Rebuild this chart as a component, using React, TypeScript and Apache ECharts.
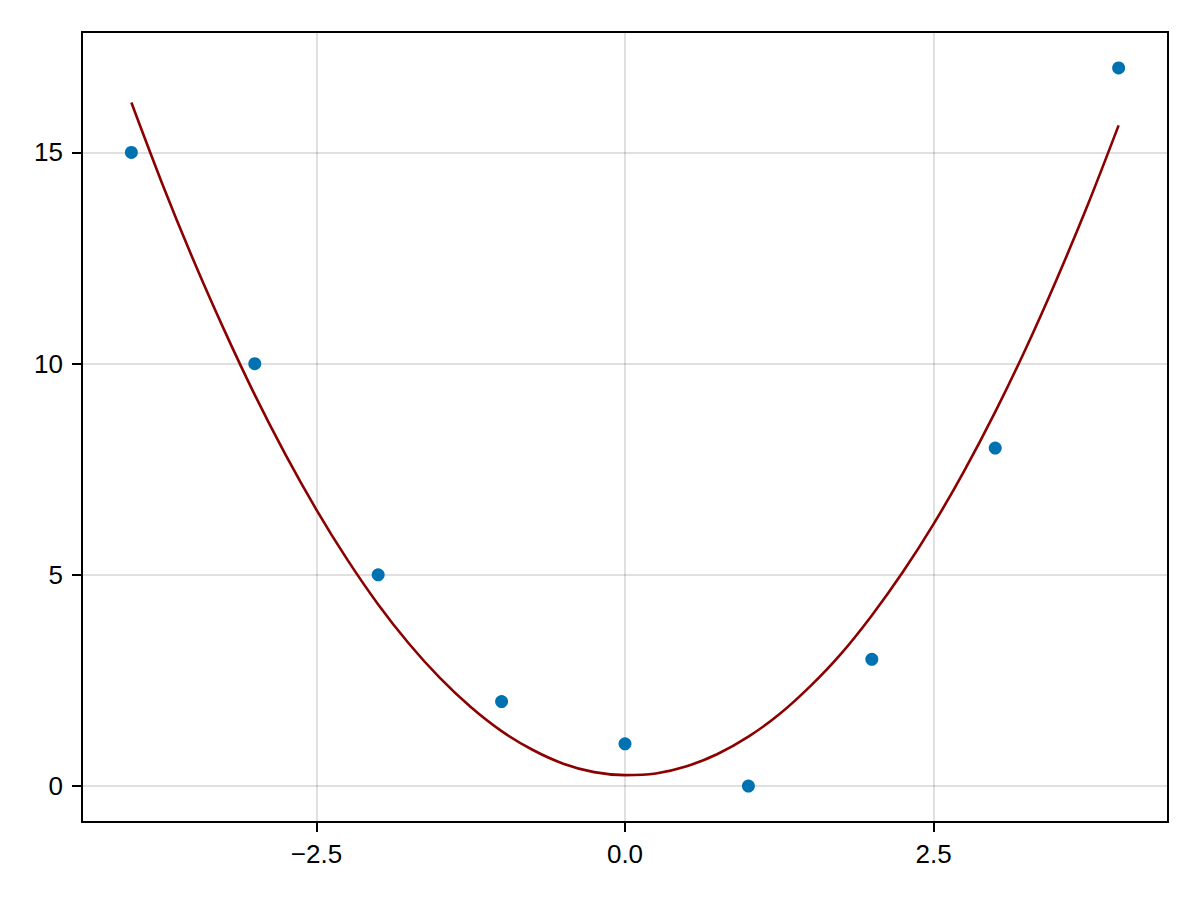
import React, { useEffect, useRef } from "react";
import * as echarts from "echarts";

const pointX = [-4, -3, -2, -1, 0, 1, 2, 3, 4];
const pointY = [15, 10, 5, 2, 1, 0, 3, 8, 17];

const curveX = [
  -4, -3.75, -3.5, -3.25, -3, -2.75, -2.5, -2.25, -2, -1.75, -1.5, -1.25, -1, -0.75, -0.5, -0.25,
  0, 0.25, 0.5, 0.75, 1, 1.25, 1.5, 1.75, 2, 2.25, 2.5, 2.75, 3, 3.25, 3.5, 3.75, 4,
];
const curveY = [
  16.18, 14.26, 12.47, 10.81, 9.26, 7.84, 6.54, 5.36, 4.3, 3.37, 2.56, 1.87, 1.3, 0.86, 0.53, 0.33,
  0.26, 0.3, 0.47, 0.76, 1.17, 1.7, 2.36, 3.13, 4.04, 5.06, 6.2, 7.47, 8.86, 10.37, 12.01, 13.76, 15.64,
];

const xTicks = [-2.5, 0, 2.5];
const yTicks = [0, 5, 10, 15];

const fmtX = (v: number) => (v < 0 ? "\u2212" + Math.abs(v).toFixed(1) : v.toFixed(1));

export default function App() {
  const ref = useRef<HTMLDivElement>(null);
  useEffect(() => {
    if (!ref.current) return;
    const chart = echarts.init(ref.current, undefined, { renderer: "svg" });
    const font = "'Liberation Sans', Arial, sans-serif";
    chart.setOption({
      animation: false,
      backgroundColor: "#ffffff",
      grid: {
        left: 82,
        right: 32,
        top: 32,
        bottom: 78,
        show: true,
        borderColor: "#000000",
        borderWidth: 2,
        backgroundColor: "transparent",
      },
      xAxis: {
        type: "value",
        min: -4.4,
        max: 4.4,
        axisLine: { show: true, onZero: false, lineStyle: { color: "#000", width: 2 } },
        axisTick: {
          show: true,
          customValues: xTicks,
          length: 10,
          inside: false,
          lineStyle: { color: "#000", width: 2 },
        },
        axisLabel: {
          customValues: xTicks,
          formatter: fmtX,
          fontSize: 26,
          fontFamily: font,
          color: "#000",
          margin: 19,
        },
        splitLine: { show: true, lineStyle: { color: "rgba(0,0,0,0.12)", width: 2 } },
      },
      yAxis: {
        type: "value",
        min: -0.85,
        max: 17.85,
        axisLine: { show: true, onZero: false, lineStyle: { color: "#000", width: 2 } },
        axisTick: {
          show: true,
          customValues: yTicks,
          length: 10,
          inside: false,
          lineStyle: { color: "#000", width: 2 },
        },
        axisLabel: {
          customValues: yTicks,
          formatter: (v: number) => String(v),
          fontSize: 26,
          fontFamily: font,
          color: "#000",
          margin: 19,
        },
        splitLine: { show: true, lineStyle: { color: "rgba(0,0,0,0.12)", width: 2 } },
      },
      series: [
        {
          type: "scatter",
          data: pointX.map((x, i) => [x, pointY[i]]),
          symbolSize: 13,
          itemStyle: { color: "#0072B2", opacity: 1 },
          z: 2,
        },
        {
          type: "line",
          data: curveX.map((x, i) => [x, curveY[i]]),
          showSymbol: false,
          smooth: 0.3,
          lineStyle: { color: "#8B0000", width: 2.6 },
          z: 3,
        },
      ],
    });
    return () => chart.dispose();
  }, []);
  return (
    <div
      ref={ref}
      style={{ position: "fixed", left: 0, top: 0, width: 1200, height: 900 }}
    />
  );
}
